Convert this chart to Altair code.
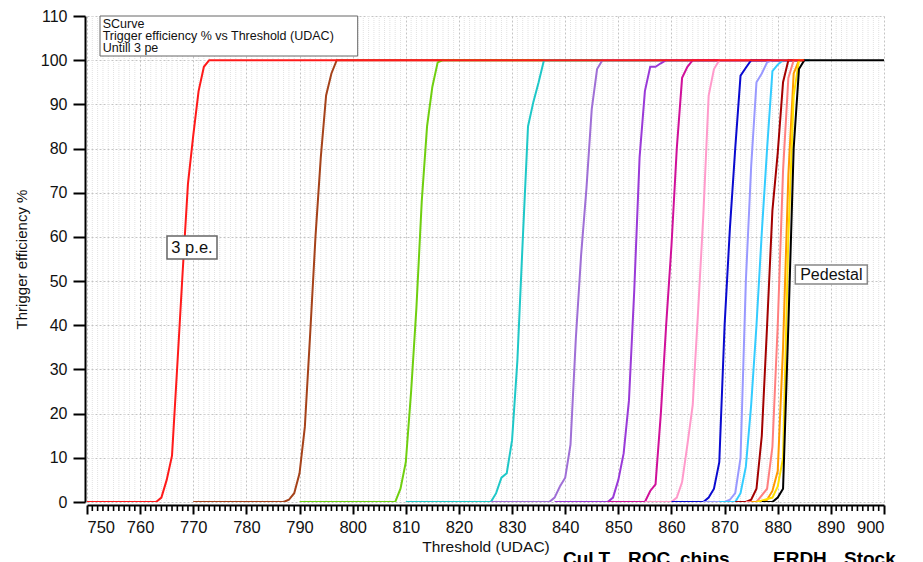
import altair as alt
import pandas as pd

# ---------------- data ----------------
red_x = [750, 763, 764, 765, 766, 767, 768, 769, 770, 771, 772, 773, 885]
red_y = [0, 0, 1, 5, 10.5, 31, 52, 72, 83, 93, 98.5, 100, 100]
brown_x = [770, 787, 788, 789, 790, 791, 792, 793, 794, 795, 796, 797, 885]
brown_y = [0, 0, 0.5, 2, 6.5, 17, 38, 60, 78, 92, 97, 100, 100]
green_x = [790, 808, 809, 810, 811, 812, 813, 814, 815, 816, 817, 885]
green_y = [0, 0, 3, 9, 25, 44, 68, 85, 94, 99.5, 100, 100]
cyan_x = [810, 826, 827, 828, 829, 830, 831, 832, 833, 834, 835, 836, 885]
cyan_y = [0, 0, 2, 5.5, 6.5, 14, 32, 59, 85, 90.5, 95, 100, 100]
lavender_x = [826, 837, 838, 839, 840, 841, 842, 843, 844, 845, 846, 847, 885]
lavender_y = [0, 0, 1, 3.5, 5.5, 13, 37, 56, 71, 89, 98, 100, 100]
purple_x = [838, 848, 849, 850, 851, 852, 853, 854, 855, 856, 857, 858, 859, 885]
purple_y = [0, 0, 1, 5, 11, 23, 48, 78, 93, 98.5, 98.5, 99.3, 100, 100]
magenta_x = [848, 855, 856, 857, 858, 859, 860, 861, 862, 863, 864, 885]
magenta_y = [0, 0, 2.5, 4, 20, 40, 58, 80, 96, 98.5, 100, 100]
pink_x = [855, 860, 861, 862, 863, 864, 865, 866, 867, 868, 869, 885]
pink_y = [0, 0, 1, 4.5, 13, 22, 43, 65, 92, 98, 100, 100]
blue_x = [860, 866, 867, 868, 869, 870, 871, 872, 873, 874, 875, 885]
blue_y = [0, 0, 1, 3, 9, 40, 62, 80, 96.5, 98.3, 100, 100]
lilac_x = [866, 870, 871, 872, 873, 874, 875, 876, 877, 878, 879, 885]
lilac_y = [0, 0, 0.5, 2, 10, 50, 76, 95, 97, 99.5, 100, 100]
skyblue_x = [869, 872, 873, 874, 875, 876, 877, 878, 879, 880, 881, 886]
skyblue_y = [0, 0, 2, 8, 22, 40, 61, 80, 97.5, 99, 100, 100]
darkred_x = [872, 874, 875, 876, 877, 878, 879, 880, 881, 882, 885]
darkred_y = [0, 0, 0.5, 3, 15, 40, 66, 79, 95, 100, 100]
salmon_x = [874, 876, 877, 878, 879, 880, 881, 882, 883, 885]
salmon_y = [0, 0, 1.5, 3, 12.5, 40, 75, 96, 100, 100]
orange_x = [875, 877, 878, 879, 880, 881, 882, 883, 884, 885]
orange_y = [0, 0, 0.5, 2.5, 7, 35, 74, 97, 100, 100]
yellow_x = [876, 879, 880, 881, 882, 883, 884, 885]
yellow_y = [0, 1, 3.5, 10, 60, 92, 100, 100]
black_x = [877, 879, 880, 881, 882, 883, 884, 885, 900]
black_y = [0, 0, 1, 3, 40, 80, 98, 100, 100]

x_major = list(range(750, 901, 10))
x_minor = [v for v in range(751, 900) if v % 10 != 0]
y_major = list(range(0, 111, 10))

info_lines = ["SCurve", "Trigger efficiency % vs Threshold (UDAC)", "Untill 3 pe"]
footer_words = ["CuLT", "ROC", "chips", "ERDH", "Stock"]

# ---------------- styling ----------------
W, H = 797, 486
FONT = "Liberation Sans"

curves = [
    (brown_x, brown_y, "#a5421a"),
    (green_x, green_y, "#6fcf0f"),
    (cyan_x, cyan_y, "#1ec8c8"),
    (lavender_x, lavender_y, "#9f6fd6"),
    (purple_x, purple_y, "#9a3ad8"),
    (magenta_x, magenta_y, "#d0109a"),
    (pink_x, pink_y, "#ff9acb"),
    (blue_x, blue_y, "#0a0ad0"),
    (lilac_x, lilac_y, "#9999ff"),
    (skyblue_x, skyblue_y, "#33ccff"),
    (darkred_x, darkred_y, "#a30000"),
    (salmon_x, salmon_y, "#ff7f7f"),
    (orange_x, orange_y, "#ff9900"),
    (yellow_x, yellow_y, "#ffe000"),
    (black_x, black_y, "#000000"),
    (red_x, red_y, "#ff1a1a"),
]

x_scale = alt.Scale(domain=[750, 900], nice=False, zero=False)
y_scale = alt.Scale(domain=[0, 110], nice=False)

x_axis = alt.Axis(
    values=x_major, title="Threshold (UDAC)", offset=3,
    grid=True, gridColor="#c4c4c4", gridDash=[2, 2], gridWidth=1,
    domainColor="black", domainWidth=2,
    tickColor="black", tickWidth=2, tickSize=9,
    labelFont=FONT, labelFontSize=16.5, labelColor="#111", labelPadding=5,
    titleFont=FONT, titleFontSize=15.5, titleFontWeight="normal", titleColor="#111",
    titlePadding=4,
)
y_axis = alt.Axis(
    values=y_major, title="Thrigger efficiency %", offset=2,
    grid=True, gridColor="#c4c4c4", gridDash=[2, 2], gridWidth=1,
    domainColor="black", domainWidth=2,
    tickColor="black", tickWidth=2, tickSize=12,
    labelFont=FONT, labelFontSize=16, labelColor="#111", labelPadding=6,
    titleFont=FONT, titleFontSize=15, titleFontWeight="normal", titleColor="#111",
    titlePadding=11,
)

X = alt.X("x:Q", scale=x_scale, axis=x_axis)
Y = alt.Y("y:Q", scale=y_scale, axis=y_axis)

minor_df = pd.DataFrame({"x": x_minor})
minor_grid = alt.Chart(minor_df).mark_rule(
    color="#e2e2e2", strokeDash=[1, 1], strokeWidth=1
).encode(x=X, y=alt.value(0), y2=alt.value(H))
minor_ticks = alt.Chart(minor_df).mark_rule(
    color="black", strokeWidth=1.6
).encode(x=X, y=alt.value(H + 3), y2=alt.value(H + 9))

line_layers = []
for xs, ys, col in curves:
    df = pd.DataFrame({"x": xs, "y": ys})
    line_layers.append(
        alt.Chart(df).mark_line(color=col, strokeWidth=2, clip=True).encode(x=X, y=Y)
    )

one = pd.DataFrame({"a": [0]})

def box(x1, x2, y1, y2, stroke, sw):
    return alt.Chart(one).mark_rect(fill="white", stroke=stroke, strokeWidth=sw).encode(
        x=alt.value(x1), x2=alt.value(x2), y=alt.value(y1), y2=alt.value(y2)
    )

def label(txt, x, y, size, align="left", baseline="alphabetic", weight="normal", color="#111"):
    return alt.Chart(one).mark_text(
        text=txt, align=align, baseline=baseline, font=FONT,
        fontSize=size, fontWeight=weight, color=color
    ).encode(x=alt.value(x), y=alt.value(y))

annotations = [
    box(13, 270.7, 0, 40, "#666", 1),
    label(info_lines[0], 15.7, 12.2, 12.5),
    label(info_lines[1], 15.7, 24.2, 12.5),
    label(info_lines[2], 15.7, 36.2, 12.5),
    box(80, 130, 220, 243, "#666", 1.5),
    label("3 p.e.", 105, 232, 16.5, align="center", baseline="middle"),
    box(708.3, 780.3, 249, 268, "#888", 1.5),
    label("Pedestal", 744.3, 259, 16, align="center", baseline="middle"),
]
footer_x = [476, 541, 593, 686, 757]
for w, fx in zip(footer_words, footer_x):
    annotations.append(label(w, fx, 549, 19, weight="bold", color="#000"))

chart = alt.layer(minor_grid, minor_ticks, *line_layers, *annotations).properties(
    width=W, height=H,
    autosize=alt.AutoSizeParams(type="none"),
    padding={"left": 79, "top": 8, "right": 31, "bottom": 60},
    background="white",
).configure_view(strokeWidth=0)

chart.save("out.html", embed_options={"renderer": "svg", "actions": False})
